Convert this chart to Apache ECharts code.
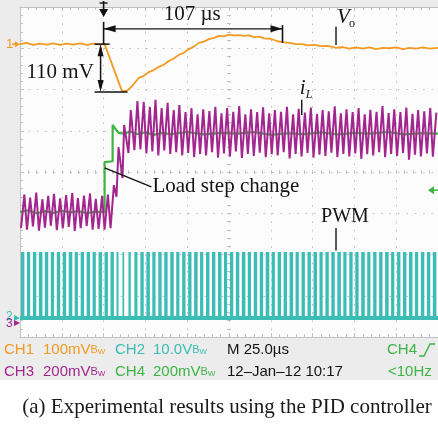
<!DOCTYPE html>
<html>
<head>
<meta charset="utf-8">
<title>PID load step</title>
<script src="https://cdn.jsdelivr.net/npm/echarts@6/dist/echarts.min.js"></script>
<style>html,body{margin:0;padding:0;background:#fff}</style>
</head>
<body>
<div id="main" style="width:438px;height:424px;"></div>
<script>
// time in µs (M 25.0µs/div, trigger at 0); vertical in screen divisions (-4..4)

// CH1 output voltage Vo
const voTime = [-50,-46,-42,-38,-34,-30,-26,-22,-18,-14,-10,-6,-2,0.6,11,14,17,21,24,27,30,33,36,39,42,45,48,51,54,57,60,63,66,69,72,75,78,81,84,87,90,93,96,100,104,107,111,115,119,122,126,130,134,139,143,147,151,155,159,163,167,171,175,179,183,187,191,195,200];
const voLevel = [3.10,3.13,3.08,3.11,3.09,3.12,3.08,3.11,3.09,3.12,3.08,3.11,3.09,3.10,1.96,1.97,2.08,2.28,2.33,2.42,2.47,2.55,2.60,2.69,2.75,2.84,2.89,2.98,3.04,3.13,3.16,3.22,3.25,3.30,3.29,3.33,3.31,3.32,3.30,3.31,3.27,3.28,3.24,3.23,3.17,3.15,3.13,3.10,3.10,3.07,3.08,3.05,3.06,3.01,3.03,2.99,3.02,2.99,3.02,2.98,3.01,3.00,3.02,2.98,3.01,2.99,3.02,2.99,3.01];

// CH4 load step signal
const stepTime = [-50,-45,-40,-35,-30,-25,-20,-15,-10,-5,0.6,0.6,5.4,5.4,7,9,12,16,20,25,30,35,40,50,60,70,80,90,100,110,120,130,140,150,160,170,180,190,200];
const stepLevel = [-0.97,-0.93,-1.00,-0.95,-0.99,-0.94,-0.98,-0.95,-1.00,-0.96,-0.97,0.24,0.26,1.14,1.05,0.95,0.93,0.98,0.92,0.96,0.90,0.95,0.92,0.97,0.91,0.95,0.93,0.97,0.90,0.94,0.92,0.96,0.91,0.95,0.93,0.97,0.91,0.94,0.93];

// switching cycles (CH2 PWM, CH3 inductor current)
const swStart = -49.4;
const swPeriod = 3.57;
const pwmHigh = -1.94;
const pwmLow = -3.54;
const pwmOn = [2.0,1.9,2.0,2.1,2.0,1.9,2.0,2.0,2.1,1.9,2.0,2.0,1.9,2.1,2.0,2.0,1.2,1.0,1.4,1.8,
  2.0,2.1,1.9,2.0,2.0,2.1,1.9,2.0,2.0,2.1,1.9,2.0,2.0,2.1,1.9,2.0,2.0,2.1,1.9,2.0,
  2.0,2.1,1.9,2.0,2.0,2.1,1.9,2.0,2.0,2.1,1.9,2.0,2.0,2.1,1.9,2.0,2.0,2.1,1.9,2.0,
  2.0,2.1,1.9,2.0,2.0,2.1,1.9,2.0,2.0,2.1];
const iLPeak = [-0.55,-0.62,-0.50,-0.66,-0.58,-0.53,-0.64,-0.56,-0.51,-0.63,-0.57,-0.52,-0.65,-0.58,
  -0.55,-0.32,0.60,1.14,1.50,1.72,
  1.70,1.58,1.75,1.55,1.68,1.50,1.62,1.45,1.55,1.40,1.52,
  1.48,1.58,1.42,1.55,1.46,1.60,1.40,1.52,1.45,1.57,1.42,1.50,1.46,1.58,1.40,1.53,1.44,1.56,1.41,1.50,
  1.47,1.59,1.42,1.52,1.45,1.55,1.40,1.51,1.46,1.60,1.43,1.52,1.45,1.56,1.41,1.50,1.47,1.55,1.44];
const iLValley = [-1.36,-1.40,-1.32,-1.42,-1.35,-1.30,-1.41,-1.37,-1.33,-1.43,-1.36,-1.31,-1.40,-1.38,
  -1.40,-1.36,-0.60,-0.15,0.46,0.53,
  0.55,0.45,0.50,0.40,0.52,0.44,0.48,0.40,0.46,0.36,0.44,
  0.40,0.48,0.35,0.45,0.38,0.50,0.34,0.44,0.39,0.47,0.36,0.43,0.40,0.48,0.33,0.44,0.38,0.46,0.35,0.42,
  0.39,0.47,0.36,0.44,0.38,0.45,0.32,0.43,0.40,0.48,0.36,0.44,0.39,0.46,0.30,0.42,0.38,0.45,0.37];

const ORANGE = '#f39a22', TEAL = '#3bbdb6', MAGENTA = '#a3268f', GREEN = '#3db443';
const EDGE = '#c2c2c2', DOT = '#bdbdbd';

const voData = voTime.map((t, i) => [t, voLevel[i]]);
const stepData = stepTime.map((t, i) => [t, stepLevel[i]]);
const pwmData = pwmOn.map((on, k) => [swStart + k * swPeriod, swStart + k * swPeriod + on]);
const iLData = [];
iLPeak.forEach((pk, k) => {
  const t = swStart + k * swPeriod;
  iLData.push([t, iLValley[k]], [t + pwmOn[k], pk]);
});

let chart = echarts.init(document.getElementById('main'));
const box = { left: 20, top: 7, width: 420, height: 330 };

function edgeX(gi, pos) {
  return {
    gridIndex: gi, type: 'value', min: -50, max: 200, interval: 25, position: pos,
    axisLine: { onZero: false, lineStyle: { color: EDGE, width: 1 } },
    axisTick: { inside: true, length: 4, lineStyle: { color: EDGE } },
    minorTick: { show: true, splitNumber: 5, length: 3, lineStyle: { color: EDGE } },
    axisLabel: { show: false },
    splitLine: { show: pos === 'bottom', lineStyle: { color: DOT, type: [1.5, 6.75] } }
  };
}
function centerX(gi, inside) {
  return {
    gridIndex: gi, type: 'value', min: -5, max: 5, interval: 1,
    axisLine: { show: false, onZero: true },
    axisTick: { inside: inside, length: 2, lineStyle: { color: EDGE } },
    minorTick: { show: true, splitNumber: 5, length: 2, lineStyle: { color: EDGE } },
    axisLabel: { show: false }, splitLine: { show: false }
  };
}
function centerY(gi, inside) {
  return {
    gridIndex: gi, type: 'value', min: -4, max: 4, interval: 1,
    axisLine: { show: false, onZero: true },
    axisTick: { inside: inside, length: 2, lineStyle: { color: EDGE } },
    minorTick: { show: true, splitNumber: 5, length: 2, lineStyle: { color: EDGE } },
    axisLabel: { show: false }, splitLine: { show: false }
  };
}

const option = {
  animation: false,
  backgroundColor: '#ececec',
  grid: [
    Object.assign({ show: true, backgroundColor: '#fcfcfc', borderWidth: 0 }, box),
    Object.assign({ show: false }, box),
    Object.assign({ show: false }, box)
  ],
  xAxis: [edgeX(0, 'bottom'), edgeX(0, 'top'), centerX(1, true), centerX(2, false)],
  yAxis: [
    {
      gridIndex: 0, type: 'value', min: -4, max: 4, interval: 1, position: 'left',
      axisLine: { show: true, onZero: false, lineStyle: { color: EDGE } },
      axisTick: { inside: true, length: 4, lineStyle: { color: EDGE } },
      minorTick: { show: true, splitNumber: 5, length: 3, lineStyle: { color: EDGE } },
      axisLabel: { show: false },
      splitLine: { show: true, lineStyle: { color: DOT, type: [1.5, 6.9] } }
    },
    centerY(1, true), centerY(2, false)
  ],
  series: [
    {
      name: 'PWM', type: 'custom', xAxisIndex: 0, yAxisIndex: 0, z: 2, silent: true,
      data: pwmData, encode: { x: [0, 1] },
      renderItem: function (params, api) {
        const a = api.coord([api.value(0), pwmHigh]);
        const b = api.coord([api.value(1), pwmLow]);
        return {
          type: 'rect',
          shape: { x: a[0], y: a[1], width: b[0] - a[0], height: b[1] - a[1] },
          style: { fill: TEAL }
        };
      }
    },
    {
      name: 'PWM low', type: 'line', xAxisIndex: 0, yAxisIndex: 0, z: 2, silent: true,
      showSymbol: false, data: [[-50, pwmLow], [200, pwmLow]],
      lineStyle: { color: TEAL, width: 4 }
    },
    {
      name: 'CH4', type: 'line', xAxisIndex: 0, yAxisIndex: 0, z: 3, silent: true,
      showSymbol: false, data: stepData, lineStyle: { color: GREEN, width: 2.2 }
    },
    {
      name: 'iL', type: 'line', xAxisIndex: 0, yAxisIndex: 0, z: 4, silent: true,
      showSymbol: false, data: iLData, lineStyle: { color: MAGENTA, width: 2 }
    },
    {
      name: 'Vo', type: 'line', xAxisIndex: 0, yAxisIndex: 0, z: 5, silent: true,
      showSymbol: false, data: voData, lineStyle: { color: ORANGE, width: 1.8 }
    }
  ]
};
chart.setOption(option);

// annotations anchored to data coordinates
const P = (t, v) => chart.convertToPixel({ seriesIndex: 4 }, [t, v]);
const INK = '#141414';
const SERIF = 'Liberation Serif, Times New Roman, serif';
const SANS = 'Liberation Sans, Arial, sans-serif';
const g = [];
function seg(a, b, w, c) {
  g.push({ type: 'line', silent: true, z: 100, shape: { x1: a[0], y1: a[1], x2: b[0], y2: b[1] }, style: { stroke: c || INK, lineWidth: w || 1.5 } });
}
function tri(pts, c) {
  g.push({ type: 'polygon', silent: true, z: 100, shape: { points: pts }, style: { fill: c || INK } });
}
function txt(x, y, s, size, opts) {
  g.push({ type: 'text', silent: true, z: 100, x: x, y: y,
    style: Object.assign({ text: s, fontSize: size, fontFamily: SERIF, fill: INK, align: 'left', verticalAlign: 'middle' }, opts || {}) });
}

// trigger marker
const trg = P(0, 4);
seg([trg[0], 1], [trg[0], 11], 1.6);
seg([trg[0] - 4, 3], [trg[0] + 4, 3], 1.4);
tri([[trg[0] - 4.5, 9], [trg[0] + 4.5, 9], [trg[0], 17]]);

// 107 µs span
const a0 = P(0, 3.47), a1 = P(107, 3.47);
seg(a0, a1, 1.4);
tri([[a0[0], a0[1]], [a0[0] + 12, a0[1] - 3.5], [a0[0] + 12, a0[1] + 3.5]]);
tri([[a1[0], a1[1]], [a1[0] - 12, a1[1] - 3.5], [a1[0] - 12, a1[1] + 3.5]]);
seg(P(0, 3.64), P(0, 3.10), 1.6);
seg(P(107, 3.56), P(107, 3.13), 1.6);
const lb = P(53, 3.81);
txt(lb[0], lb[1], '107 µs', 21, { align: 'center' });

// 110 mV drop
const d0 = P(-1.8, 3.10), d1 = P(-1.8, 1.94);
seg(P(-5.4, 3.10), P(3.6, 3.10), 1.5);
seg(P(-5.4, 1.94), P(14.3, 1.94), 1.5);
seg([d0[0], d0[1] + 4], [d1[0], d1[1] - 4], 1.5);
tri([[d0[0], d0[1]], [d0[0] - 3, d0[1] + 12], [d0[0] + 3, d0[1] + 12]]);
tri([[d1[0], d1[1]], [d1[0] - 3, d1[1] - 12], [d1[0] + 3, d1[1] - 12]]);
const mv = P(-26, 2.42);
txt(mv[0], mv[1], '110 mV', 21, { align: 'center' });

// Vo label
const vo = P(139, 3.52);
seg(vo, P(139, 3.08), 1.4);
txt(vo[0] + 1, vo[1] - 9, 'V', 21, { fontStyle: 'italic' });
txt(vo[0] + 13, vo[1] - 3, 'o', 12);

// iL label
const il = P(118.5, 1.75);
seg(il, P(118.5, 1.38), 1.4);
txt(il[0] - 2, il[1] - 11, 'i', 21, { fontStyle: 'italic' });
txt(il[0] + 4, il[1] - 5, 'L', 12, { fontStyle: 'italic' });

// load step
const ls0 = P(0.6, 0.10), ls1 = P(28.6, -0.36);
seg(ls0, ls1, 1.5);
txt(ls1[0] + 1, ls1[1], 'Load step change', 21);

// PWM
const pw = P(139, -1.36);
seg(pw, P(139, -1.90), 1.4);
txt(pw[0] + 9, pw[1] - 11, 'PWM', 20, { align: 'center' });

// channel markers
const m1 = P(-50, 3.10);
txt(6, m1[1], '1', 13, { fontFamily: SANS, fill: ORANGE });
seg([12, m1[1]], [16, m1[1]], 1.5, ORANGE);
tri([[15, m1[1] - 3], [15, m1[1] + 3], [20, m1[1]]], ORANGE);
const m2 = P(-50, pwmLow), m3 = P(-50, -3.66);
txt(6, m2[1] - 1, '2', 12, { fontFamily: SANS, fill: TEAL });
txt(6, m3[1] + 1, '3', 12, { fontFamily: SANS, fill: MAGENTA });
tri([[14, m2[1] - 3], [14, m2[1] + 3], [20, m2[1]]], TEAL);
tri([[14, m3[1] - 3], [14, m3[1] + 3], [20, m3[1]]], MAGENTA);
const m4 = P(200, -0.44);
tri([[428, m4[1]], [434, m4[1] - 4], [434, m4[1] + 4]], GREEN);
seg([433, m4[1]], [438, m4[1]], 1.5, GREEN);

// status bar and caption
g.push({ type: 'rect', silent: true, z: 90, shape: { x: 0, y: 380, width: 438, height: 44 }, style: { fill: '#ffffff' } });
const bw = { b: { fontSize: 11 }, w: { fontSize: 8, padding: [4, 0, 0, 0] } };
function stat(x, y, s, c) {
  txt(x, y, s, 15, { fontFamily: SANS, fill: c, rich: bw });
}
stat(4, 350, 'CH1', ORANGE); stat(43, 350, '100mV{b|B}{w|W}', ORANGE);
stat(115, 350, 'CH2', TEAL); stat(153, 350, '10.0V{b|B}{w|W}', TEAL);
stat(227, 350, 'M 25.0µs', INK);
stat(387, 350, 'CH4', GREEN);
g.push({ type: 'polyline', silent: true, z: 100, shape: { points: [[419, 356], [424, 356], [430, 344], [435, 344]] }, style: { stroke: GREEN, lineWidth: 1.4, fill: null } });
stat(4, 372, 'CH3', MAGENTA); stat(43, 372, '200mV{b|B}{w|W}', MAGENTA);
stat(115, 372, 'CH4', GREEN); stat(153, 372, '200mV{b|B}{w|W}', GREEN);
stat(227, 372, '12–Jan–12 10:17', INK);
stat(388, 372, '<10Hz', GREEN);
txt(227, 407, '(a) Experimental results using the PID controller', 21, { align: 'center', fill: '#1a1a1a' });

chart.setOption({ graphic: { elements: g } });
</script>
</body>
</html>
